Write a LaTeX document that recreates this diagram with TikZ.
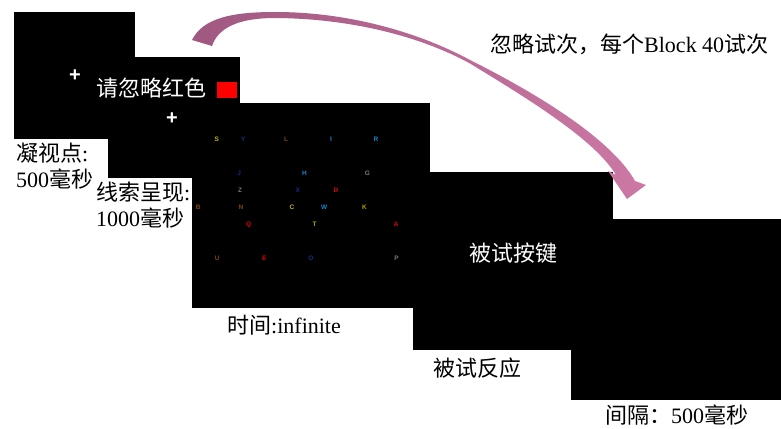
\documentclass[tikz,border=0pt]{standalone}
\usepackage{fontspec}
\setmainfont{Liberation Serif}
\newfontfamily\cjk{Noto Sans CJK SC}
\newfontfamily\lettersf{Liberation Sans}
\definecolor{arrowL}{RGB}{160,88,128}
\definecolor{arrowR}{RGB}{205,120,165}
\definecolor{cYel}{RGB}{195,180,0}
\definecolor{cOli}{RGB}{170,165,0}
\definecolor{cNavy}{RGB}{20,45,135}
\definecolor{cBrown}{RGB}{130,70,10}
\definecolor{cBlue}{RGB}{25,135,205}
\definecolor{cGray}{RGB}{120,120,125}
\definecolor{cRed}{RGB}{225,0,0}
\begin{document}
\begin{tikzpicture}[x=1pt,y=-1pt,
  screen/.style={fill=black, inner sep=0pt, anchor=north west},
  lbl/.style={inner sep=0pt, anchor=west, font=\fontsize{22}{26}\selectfont, align=left},
  ltr/.style={inner sep=0pt, font=\lettersf\bfseries\fontsize{6.5}{7}\selectfont},
  fixcross/.style={text=white, inner sep=0pt, font=\lettersf\bfseries\fontsize{20}{20}\selectfont}]
\useasboundingbox (0,0) rectangle (781,428);
\fill[white] (0,0) rectangle (781,428);
% screens
\node[screen, minimum width=121pt, minimum height=127pt] (s1) at (14,12) {};
\node[screen, minimum width=132pt, minimum height=121pt] (s2) at (108,57) {};
\node[screen, minimum width=238pt, minimum height=205pt] (s3) at (192,103) {};
\node[screen, minimum width=200pt, minimum height=178pt] (s4) at (413,172) {};
\node[screen, minimum width=210pt, minimum height=181pt] (s5) at (571,219) {};
% screen contents
\node[fixcross] (cross1) at (75,76) {+};
\node[fixcross] (cross2) at (172,119) {+};
\node[lbl, text=white] (ignore) at (96,88) {\cjk 请忽略红色};
\node[fill=red, inner sep=0pt, minimum width=20pt, minimum height=16pt] (redsq) at (227,90) {};
% letters
\node[ltr, text=cYel]   (lS) at (216.7,139) {S};
\node[ltr, text=cNavy]  (lY) at (243.3,139) {Y};
\node[ltr, text=cBrown] (lL) at (286,139) {L};
\node[ltr, text=cBlue]  (lI) at (331,139) {I};
\node[ltr, text=cBlue]  (lR) at (376,139) {R};
\node[ltr, text=cNavy]  (lJ) at (239.3,173) {J};
\node[ltr, text=cBlue]  (lH) at (304.5,173) {H};
\node[ltr, text=cGray]  (lG) at (367.5,173) {G};
\node[ltr, text=cGray]  (lZ) at (240,190.3) {Z};
\node[ltr, text=cNavy]  (lX) at (297.7,190.3) {X};
\node[ltr, text=cRed]   (lD) at (336,190.3) {D};
\node[ltr, text=cBrown] (lB) at (198.3,207.7) {B};
\node[ltr, text=cBrown] (lN) at (241,207.7) {N};
\node[ltr, text=cYel]   (lC) at (292,207.7) {C};
\node[ltr, text=cBlue]  (lW) at (324.3,207.7) {W};
\node[ltr, text=cOli]   (lK) at (364.5,207.7) {K};
\node[ltr, text=cRed]   (lQ) at (248.7,224.5) {Q};
\node[ltr, text=cOli]   (lT) at (314.7,224.5) {T};
\node[ltr, text=cRed]   (lA) at (396,224.5) {A};
\node[ltr, text=cBrown] (lU) at (217.3,258.5) {U};
\node[ltr, text=cRed]   (lE) at (264.2,258.5) {E};
\node[ltr, text=cNavy]  (lO) at (311,258.5) {O};
\node[ltr, text=cGray]  (lP) at (396.5,258.5) {P};
\node[lbl, text=white] (press) at (469,253) {\cjk 被试按键};
% labels
\node[lbl] (fixlbl) at (16,166.5) {{\cjk 凝视点}:\\500{\cjk 毫秒}};
\node[lbl] (cuelbl) at (96,205.5) {{\cjk 线索呈现}:\\1000{\cjk 毫秒}};
\node[lbl] (timelbl) at (227,325) {{\cjk 时间}:infinite};
\node[lbl] (resplbl) at (433,368) {\cjk 被试反应};
\node[lbl] (itilbl) at (605,415) {{\cjk 间隔：}500{\cjk 毫秒}};
\node[lbl] (skiplbl) at (490,44) {{\cjk 忽略试次，每个}Block 40{\cjk 试次}};
% curved arrow
\shade[left color=arrowL, right color=arrowR]
  (192,40) .. controls (203,18) and (232,12) .. (275,12)
  .. controls (350,12) and (420,33) .. (470,60)
  .. controls (540,95) and (612,140) .. (635,181)
  -- (646,185) -- (627,199) -- (608,171) -- (616,175)
  .. controls (595,140) and (530,100) .. (470,63.5)
  .. controls (420,36) and (350,18.5) .. (275,18)
  .. controls (238,18) and (218,28) .. (212,46) -- cycle;
\end{tikzpicture}
\end{document}
